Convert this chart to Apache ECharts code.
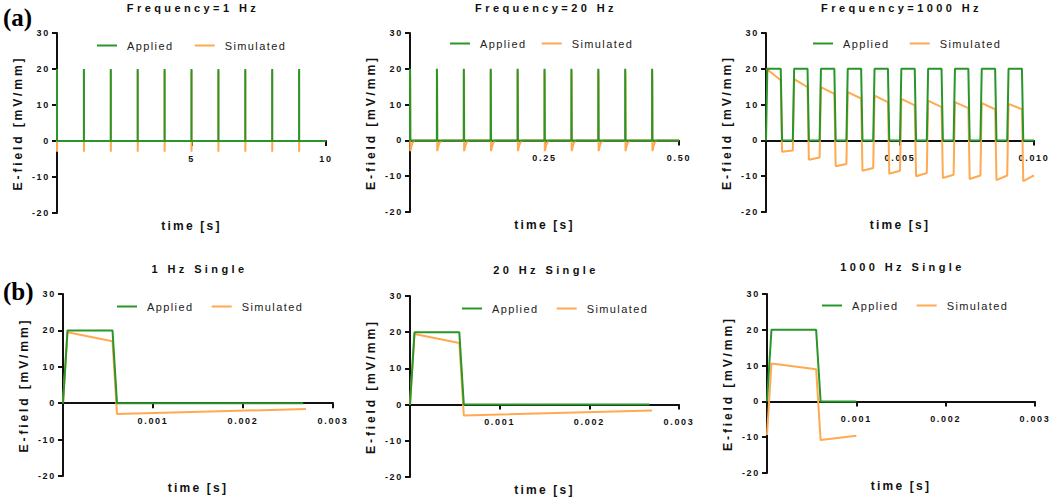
<!DOCTYPE html>
<html>
<head>
<meta charset="utf-8">
<script src="https://cdn.jsdelivr.net/npm/echarts@6/dist/echarts.min.js"></script>
<style>
  html, body { margin: 0; padding: 0; background: #fff; }
  #chart { width: 1050px; height: 497px; }
</style>
</head>
<body>
<div id="chart"></div>
<script>
// ---------------- data ----------------
const panelTitles = ['Frequency=1 Hz', 'Frequency=20 Hz', 'Frequency=1000 Hz', '1 Hz Single', '20 Hz Single', '1000 Hz Single'];
const panelLetters = ['(a)', '(b)'];
const seriesNames = ['Applied', 'Simulated'];
const xAxisName = 'time [s]';
const yAxisName = 'E-field [mV/mm]';

const xMax = [10, 0.5, 0.01, 0.003, 0.003, 0.003];
const xInterval = [5, 0.25, 0.005, 0.001, 0.001, 0.001];
const xTickLabels = [
  ['', '5', '10'],
  ['', '0.25', '0.50'],
  ['', '0.005', '0.010'],
  ['', '0.001', '0.002', '0.003'],
  ['', '0.001', '0.002', '0.003'],
  ['', '0.001', '0.002', '0.003']
];
const yMin = -20, yMax = 30, yInterval = 10;
const yTickLabels = ['-20', '-10', '0', '10', '20', '30'];

// pulse start times of the trains (s)
const pulses1Hz = [0, 1, 2, 3, 4, 5, 6, 7, 8, 9];
const pulses20Hz = [0, 0.05, 0.1, 0.15, 0.2, 0.25, 0.3, 0.35, 0.4, 0.45];
const pulses1000Hz = [0, 0.001, 0.002, 0.003, 0.004, 0.005, 0.006, 0.007, 0.008, 0.009];

// applied single pulse (time offset s, mV/mm)
const appliedPulseT = [0, 0.00005, 0.00055, 0.0006];
const appliedPulseV = [0, 20, 20, 0];
const appliedSingleEnd = [0.00267, 0.00267, 0.001];

// simulated response to a single pulse (1 Hz / 20 Hz)
const simSingleT = [0, 0.00005, 0.00055, 0.0006, 0.0027];
const simSingleV = [0, 19.5, 17, -3, -1.6];
// recovery tail seen between pulses of the trains
const simTailT = [0.005, 0.009];
const simTailV = [-0.6, 0];

// simulated response at 1000 Hz single pulse
const sim1000SingleT = [0, 0.00005, 0.00055, 0.0006, 0.001];
const sim1000SingleV = [-9.4, 10.6, 9.0, -10.8, -9.6];

// simulated 1000 Hz train, per pulse
const sim1000Offsets = [0.00005, 0.00055, 0.0006, 0.001];
const sim1000TopStart = [19.8, 17.1, 14.9, 13.5, 12.5, 11.6, 11.1, 10.7, 10.4, 10.2];
const sim1000TopEnd   = [16.8, 14.9, 13.0, 11.7, 10.7, 9.8, 9.3, 9.0, 8.7, 8.7];
const sim1000LowStart = [-3.2, -5.4, -7.2, -8.5, -9.3, -10.0, -10.5, -10.8, -11.1, -11.4];
const sim1000LowEnd   = [-2.8, -4.8, -6.6, -7.7, -8.5, -9.1, -9.6, -9.8, -9.8, -9.8];

// ---------------- build series data ----------------
function zip(t, v, t0) { return t.map((x, i) => [t0 + x, v[i]]); }
function appliedTrain(starts, end) {
  let d = [];
  starts.forEach(s => { d = d.concat(zip(appliedPulseT, appliedPulseV, s)); });
  d.push([end, 0]);
  return d;
}
function simTrain(starts, end) {
  let d = [];
  starts.forEach(s => {
    d = d.concat(zip(simSingleT, simSingleV, s));
    d = d.concat(zip(simTailT, simTailV, s));
  });
  d.push([end, 0]);
  return d;
}
function simTrain1000() {
  let d = [];
  pulses1000Hz.forEach((s, k) => {
    const vals = [sim1000TopStart[k], sim1000TopEnd[k], sim1000LowStart[k], sim1000LowEnd[k]];
    d = d.concat(zip(sim1000Offsets, vals, s));
  });
  d.unshift([0, sim1000TopStart[0]]);
  return d;
}

const appliedData = [
  appliedTrain(pulses1Hz, xMax[0]),
  appliedTrain(pulses20Hz, xMax[1]),
  appliedTrain(pulses1000Hz, xMax[2]),
  zip(appliedPulseT, appliedPulseV, 0).concat([[appliedSingleEnd[0], 0]]),
  zip(appliedPulseT, appliedPulseV, 0).concat([[appliedSingleEnd[1], 0]]),
  zip(appliedPulseT, appliedPulseV, 0).concat([[appliedSingleEnd[2], 0]])
];
const simulatedData = [
  simTrain(pulses1Hz, xMax[0]),
  simTrain(pulses20Hz, xMax[1]),
  simTrain1000(),
  zip(simSingleT, simSingleV, 0),
  zip(simSingleT, simSingleV, 0),
  zip(sim1000SingleT, sim1000SingleV, 0)
];

// ---------------- layout ----------------
const grids = [
  { left: 57,  top: 33,  width: 269, height: 180 },
  { left: 410, top: 33,  width: 269, height: 179 },
  { left: 766, top: 33,  width: 268, height: 179 },
  { left: 63,  top: 294, width: 270, height: 182 },
  { left: 410, top: 296, width: 269, height: 181 },
  { left: 767, top: 294, width: 268, height: 179 }
];
const titlePos = [[193, 2], [546, 2], [901.5, 2], [199.5, 263], [546, 264], [902.5, 261]];
const legendPos = [[97, 40, 31], [450, 38, 25], [813, 38, 30], [117, 301, 28], [462, 303, 28], [822, 300, 28]];

const GREEN = '#2a962a';
const ORANGE = '#ffaa50';
const AXIS = '#111111';
const TEXT = '#111111';
const FONT = '"Liberation Sans", Arial, sans-serif';

const option = {
  animation: false,
  backgroundColor: '#ffffff',
  title: panelTitles.map((t, i) => ({
    text: t, left: titlePos[i][0], top: titlePos[i][1], textAlign: 'center', padding: 0,
    textStyle: { fontFamily: FONT, fontSize: 11, fontWeight: 'bold', color: TEXT }
  })),
  legend: legendPos.map(p => ({
    data: seriesNames, left: p[0], top: p[1], itemGap: p[2], itemWidth: 20, itemHeight: 2,
    icon: 'rect', padding: 0, selectedMode: false,
    textStyle: { fontFamily: FONT, fontSize: 11, color: '#222', padding: [0, 0, 0, 5] }
  })),
  grid: grids.map(g => Object.assign({ outerBoundsMode: 'none', containLabel: false }, g)),
  xAxis: grids.map((g, i) => ({
    gridIndex: i, type: 'value', min: 0, max: xMax[i], interval: xInterval[i],
    position: 'bottom',
    offset: -g.height * (0 - yMin) / (yMax - yMin),
    axisLine: { show: true, onZero: false, lineStyle: { color: AXIS, width: 2 } },
    axisTick: { show: true, length: 5, lineStyle: { color: AXIS, width: 2 } },
    splitLine: { show: false },
    axisLabel: {
      margin: 13, fontFamily: FONT, fontSize: 9, fontWeight: 'bold', color: TEXT,
      showMinLabel: true, showMaxLabel: true,
      formatter: v => xTickLabels[i][Math.round(v / xInterval[i])] || ''
    },
    name: xAxisName, nameLocation: 'middle', nameGap: 79,
    nameTextStyle: { fontFamily: FONT, fontSize: 12, fontWeight: 'bold', color: TEXT }
  })),
  yAxis: grids.map((g, i) => ({
    gridIndex: i, type: 'value', min: yMin, max: yMax, interval: yInterval,
    axisLine: { show: true, onZero: false, lineStyle: { color: AXIS, width: 2 } },
    axisTick: { show: true, length: 5, lineStyle: { color: AXIS, width: 2 } },
    splitLine: { show: false },
    axisLabel: {
      margin: 7, fontFamily: FONT, fontSize: 9, fontWeight: 'bold', color: TEXT,
      formatter: v => yTickLabels[Math.round((v - yMin) / yInterval)]
    },
    name: yAxisName, nameLocation: 'middle', nameGap: 33, nameRotate: 90,
    nameTextStyle: { fontFamily: FONT, fontSize: 12.2, fontWeight: 'bold', color: TEXT }
  })),
  graphic: [
    { type: 'text', left: 3, top: 5, style: { text: panelLetters[0], font: 'bold 25px "Liberation Serif", serif', fill: '#000' } },
    { type: 'text', left: 3, top: 279, style: { text: panelLetters[1], font: 'bold 25px "Liberation Serif", serif', fill: '#000' } }
  ],
  series: []
};

grids.forEach((g, i) => {
  option.series.push({
    name: seriesNames[1], type: 'line', xAxisIndex: i, yAxisIndex: i, data: simulatedData[i],
    symbol: 'none', z: 2, color: ORANGE, lineStyle: { color: ORANGE, width: 2 }, silent: true
  });
  option.series.push({
    name: seriesNames[0], type: 'line', xAxisIndex: i, yAxisIndex: i, data: appliedData[i],
    symbol: 'none', z: 3, color: GREEN, lineStyle: { color: GREEN, width: 2 }, silent: true
  });
});

const chart = echarts.init(document.getElementById('chart'), null, { renderer: 'svg' });
chart.setOption(option);

// letter spacing like the original typesetting
function applySpacing() {
  document.querySelectorAll('#chart text').forEach(t => {
    const cs = getComputedStyle(t);
    const fs = parseFloat(cs.fontSize);
    const bold = parseInt(cs.fontWeight, 10) >= 600 || cs.fontWeight === 'bold';
    let ls = 0;
    if (fs > 20) ls = 0;
    else if (Math.abs(fs - 12.2) < 0.1 && bold) ls = 2.8;
    else if (Math.abs(fs - 12) < 0.1 && bold) ls = 2.2;
    else if (Math.abs(fs - 11) < 0.3 && bold) ls = 3.4;
    else if (Math.abs(fs - 11) < 0.3) ls = 1.4;
    else if (fs < 10) ls = 1.7;
    t.style.letterSpacing = ls + 'px';
  });
}
applySpacing();
chart.on('finished', applySpacing);
setTimeout(applySpacing, 50);
</script>
</body>
</html>
